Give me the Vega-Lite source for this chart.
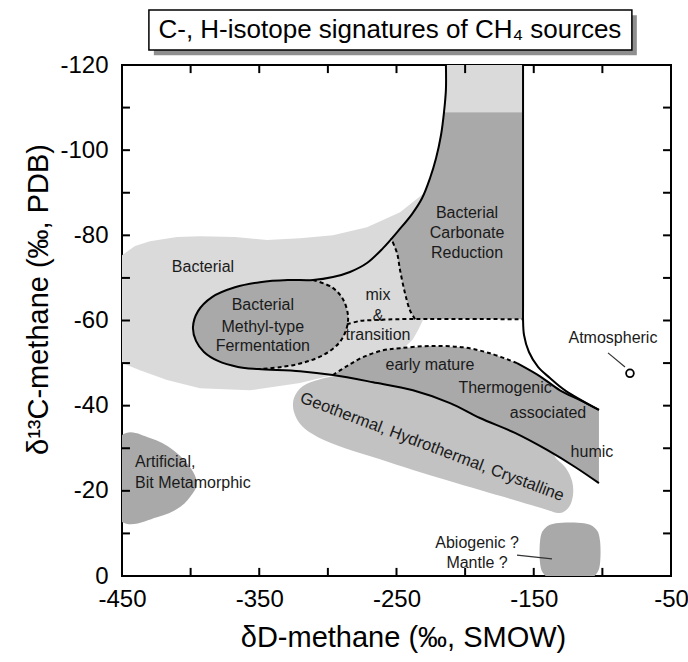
{
"$schema": "https://vega.github.io/schema/vega-lite/v6.json",
"width": 549, "height": 511,
"autosize": "none",
"padding": {"left": 122, "top": 65, "right": 17, "bottom": 86},
"background": "white",
"config": {"view": {"stroke": "black", "strokeWidth": 2}, "font": "Liberation Sans"},
"datasets": {
"shapes": [
{"g":"bact","i":1,"x":-450,"y":-75.3},{"g":"bact","i":2,"x":-440.5,"y":-77.5},{"g":"bact","i":3,"x":-429.6,"y":-78.6},{"g":"bact","i":4,"x":-409.9,"y":-79.6},{"g":"bact","i":5,"x":-393.2,"y":-79.8},{"g":"bact","i":6,"x":-367.7,"y":-79.6},{"g":"bact","i":7,"x":-344.4,"y":-78.9},{"g":"bact","i":8,"x":-320.3,"y":-79.3},{"g":"bact","i":9,"x":-296.3,"y":-80.0},{"g":"bact","i":10,"x":-271.5,"y":-81.9},{"g":"bact","i":11,"x":-247.4,"y":-85.4},{"g":"bact","i":12,"x":-230.0,"y":-89.9},{"g":"bact","i":13,"x":-228.5,"y":-76.5},{"g":"bact","i":14,"x":-230.7,"y":-60.1},{"g":"bact","i":15,"x":-234.3,"y":-57.7},{"g":"bact","i":16,"x":-238.0,"y":-55.6},{"g":"bact","i":17,"x":-245.3,"y":-53.3},{"g":"bact","i":18,"x":-258.4,"y":-51.2},{"g":"bact","i":19,"x":-273.0,"y":-49.5},{"g":"bact","i":20,"x":-296.3,"y":-47.2},{"g":"bact","i":21,"x":-320.3,"y":-45.3},{"g":"bact","i":22,"x":-356.7,"y":-43.6},{"g":"bact","i":23,"x":-393.2,"y":-44.1},{"g":"bact","i":24,"x":-417.2,"y":-46.0},{"g":"bact","i":25,"x":-436.9,"y":-48.3},{"g":"bact","i":26,"x":-450,"y":-50.0},
{"g":"strip","i":1,"x":-214.0,"y":-120},{"g":"strip","i":2,"x":-157.8,"y":-120},{"g":"strip","i":3,"x":-157.8,"y":-108.9},{"g":"strip","i":4,"x":-215.4,"y":-108.9},
{"g":"geo","i":1,"x":-287.5,"y":-47.2},{"g":"geo","i":2,"x":-305.7,"y":-46.2},{"g":"geo","i":3,"x":-318.1,"y":-44.6},{"g":"geo","i":4,"x":-324.7,"y":-41.8},{"g":"geo","i":5,"x":-324.7,"y":-38.5},{"g":"geo","i":6,"x":-318.9,"y":-35.2},{"g":"geo","i":7,"x":-307.2,"y":-32.6},{"g":"geo","i":8,"x":-287.5,"y":-30.0},{"g":"geo","i":9,"x":-262.0,"y":-27.4},{"g":"geo","i":10,"x":-238.0,"y":-24.9},{"g":"geo","i":11,"x":-213.2,"y":-22.5},{"g":"geo","i":12,"x":-189.2,"y":-20.2},{"g":"geo","i":13,"x":-163.7,"y":-17.8},{"g":"geo","i":14,"x":-141.8,"y":-15.7},{"g":"geo","i":15,"x":-130.9,"y":-14.8},{"g":"geo","i":16,"x":-124.3,"y":-16.2},{"g":"geo","i":17,"x":-121.4,"y":-19.0},{"g":"geo","i":18,"x":-122.1,"y":-22.3},{"g":"geo","i":19,"x":-126.5,"y":-25.3},{"g":"geo","i":20,"x":-133.1,"y":-27.4},{"g":"geo","i":21,"x":-140.3,"y":-30.0},{"g":"geo","i":22,"x":-163.7,"y":-34.0},{"g":"geo","i":23,"x":-189.2,"y":-37.5},{"g":"geo","i":24,"x":-211.0,"y":-41.1},{"g":"geo","i":25,"x":-238.0,"y":-44.1},{"g":"geo","i":26,"x":-267.1,"y":-46.0},
{"g":"carb","i":1,"x":-215.4,"y":-108.9},{"g":"carb","i":2,"x":-157.8,"y":-108.9},{"g":"carb","i":3,"x":-157.8,"y":-60.3},{"g":"carb","i":4,"x":-236.5,"y":-60.3},{"g":"carb","i":5,"x":-240.2,"y":-62.4},{"g":"carb","i":6,"x":-243.8,"y":-66.4},{"g":"carb","i":7,"x":-247.4,"y":-71.8},{"g":"carb","i":8,"x":-249.6,"y":-75.8},{"g":"carb","i":9,"x":-254.0,"y":-79.3},{"g":"carb","i":10,"x":-248.9,"y":-81.0},{"g":"carb","i":11,"x":-238.7,"y":-85.0},{"g":"carb","i":12,"x":-231.4,"y":-88.7},{"g":"carb","i":13,"x":-225.6,"y":-93.4},{"g":"carb","i":14,"x":-221.2,"y":-98.1},{"g":"carb","i":15,"x":-217.6,"y":-103.5},
{"g":"thermo","i":1,"x":-296.3,"y":-47.2},{"g":"thermo","i":2,"x":-286.1,"y":-49.3},{"g":"thermo","i":3,"x":-274.4,"y":-51.4},{"g":"thermo","i":4,"x":-259.8,"y":-53.0},{"g":"thermo","i":5,"x":-247.4,"y":-53.5},{"g":"thermo","i":6,"x":-225.6,"y":-54.0},{"g":"thermo","i":7,"x":-201.5,"y":-53.7},{"g":"thermo","i":8,"x":-181.9,"y":-52.3},{"g":"thermo","i":9,"x":-162.2,"y":-50.0},{"g":"thermo","i":10,"x":-145.4,"y":-46.9},{"g":"thermo","i":11,"x":-130.9,"y":-43.6},{"g":"thermo","i":12,"x":-116.3,"y":-41.3},{"g":"thermo","i":13,"x":-102.5,"y":-39.0},{"g":"thermo","i":14,"x":-102.5,"y":-21.8},{"g":"thermo","i":15,"x":-119.9,"y":-25.6},{"g":"thermo","i":16,"x":-140.3,"y":-29.6},{"g":"thermo","i":17,"x":-163.7,"y":-33.6},{"g":"thermo","i":18,"x":-189.2,"y":-37.1},{"g":"thermo","i":19,"x":-211.0,"y":-40.6},{"g":"thermo","i":20,"x":-238.0,"y":-43.6},{"g":"thermo","i":21,"x":-267.1,"y":-45.5},
{"g":"ellipse","i":1,"x":-310.8,"y":-69.5},{"g":"ellipse","i":2,"x":-297.0,"y":-67.8},{"g":"ellipse","i":3,"x":-289.0,"y":-65.0},{"g":"ellipse","i":4,"x":-285.3,"y":-61.0},{"g":"ellipse","i":5,"x":-286.8,"y":-57.7},{"g":"ellipse","i":6,"x":-291.9,"y":-54.7},{"g":"ellipse","i":7,"x":-302.1,"y":-52.1},{"g":"ellipse","i":8,"x":-316.7,"y":-50.2},{"g":"ellipse","i":9,"x":-333.4,"y":-49.1},{"g":"ellipse","i":10,"x":-350.9,"y":-48.6},{"g":"ellipse","i":11,"x":-365.5,"y":-49.1},{"g":"ellipse","i":12,"x":-380.1,"y":-50.5},{"g":"ellipse","i":13,"x":-390.3,"y":-52.6},{"g":"ellipse","i":14,"x":-396.1,"y":-55.2},{"g":"ellipse","i":15,"x":-398.3,"y":-58.4},{"g":"ellipse","i":16,"x":-394.6,"y":-62.2},{"g":"ellipse","i":17,"x":-384.4,"y":-65.5},{"g":"ellipse","i":18,"x":-367.7,"y":-67.8},{"g":"ellipse","i":19,"x":-349.5,"y":-69.0},{"g":"ellipse","i":20,"x":-329.1,"y":-69.5},
{"g":"artif","i":1,"x":-450,"y":-33.1},{"g":"artif","i":2,"x":-429.6,"y":-32.4},{"g":"artif","i":3,"x":-412.8,"y":-29.6},{"g":"artif","i":4,"x":-400.5,"y":-25.6},{"g":"artif","i":5,"x":-395.4,"y":-22.0},{"g":"artif","i":6,"x":-398.3,"y":-19.5},{"g":"artif","i":7,"x":-407.7,"y":-16.2},{"g":"artif","i":8,"x":-424.5,"y":-13.8},{"g":"artif","i":9,"x":-450,"y":-12.7},{"g":"artif","i":10,"x":-469.7,"y":-23.0},
{"g":"abio","i":1,"x":-133.8,"y":-12.4},{"g":"abio","i":2,"x":-113.4,"y":-12.4},{"g":"abio","i":3,"x":-104.6,"y":-11.0},{"g":"abio","i":4,"x":-101.7,"y":-8.2},{"g":"abio","i":5,"x":-101.7,"y":-3.0},{"g":"abio","i":6,"x":-104.6,"y":-0.4},{"g":"abio","i":7,"x":-111.9,"y":0.7},{"g":"abio","i":8,"x":-135.2,"y":0.7},{"g":"abio","i":9,"x":-142.5,"y":-0.4},{"g":"abio","i":10,"x":-145.4,"y":-3.0},{"g":"abio","i":11,"x":-145.4,"y":-8.2},{"g":"abio","i":12,"x":-142.5,"y":-11.0},
{"g":"S1","i":1,"x":-214.0,"y":-120},{"g":"S1","i":2,"x":-214.0,"y":-114.1},{"g":"S1","i":3,"x":-215.4,"y":-108.9},{"g":"S1","i":4,"x":-217.6,"y":-103.5},{"g":"S1","i":5,"x":-221.2,"y":-98.1},{"g":"S1","i":6,"x":-225.6,"y":-93.4},{"g":"S1","i":7,"x":-231.4,"y":-88.7},{"g":"S1","i":8,"x":-238.7,"y":-85.0},{"g":"S1","i":9,"x":-248.9,"y":-81.0},{"g":"S1","i":10,"x":-259.8,"y":-77.0},{"g":"S1","i":11,"x":-271.5,"y":-73.5},{"g":"S1","i":12,"x":-283.9,"y":-71.4},{"g":"S1","i":13,"x":-296.3,"y":-70.2},{"g":"S1","i":14,"x":-310.8,"y":-69.5},{"g":"S1","i":15,"x":-329.1,"y":-69.5},{"g":"S1","i":16,"x":-349.5,"y":-69.0},{"g":"S1","i":17,"x":-367.7,"y":-67.8},{"g":"S1","i":18,"x":-384.4,"y":-65.5},{"g":"S1","i":19,"x":-394.6,"y":-62.2},{"g":"S1","i":20,"x":-398.3,"y":-58.4},{"g":"S1","i":21,"x":-396.1,"y":-55.2},{"g":"S1","i":22,"x":-390.3,"y":-52.6},{"g":"S1","i":23,"x":-380.1,"y":-50.5},{"g":"S1","i":24,"x":-365.5,"y":-49.1},{"g":"S1","i":25,"x":-350.9,"y":-48.6},{"g":"S1","i":26,"x":-320.3,"y":-48.1},{"g":"S1","i":27,"x":-296.3,"y":-47.2},{"g":"S1","i":28,"x":-267.1,"y":-45.5},{"g":"S1","i":29,"x":-238.0,"y":-43.6},{"g":"S1","i":30,"x":-211.0,"y":-40.6},{"g":"S1","i":31,"x":-189.2,"y":-37.1},{"g":"S1","i":32,"x":-163.7,"y":-33.6},{"g":"S1","i":33,"x":-140.3,"y":-29.6},{"g":"S1","i":34,"x":-119.9,"y":-25.6},{"g":"S1","i":35,"x":-102.5,"y":-21.8},
{"g":"S2","i":1,"x":-157.8,"y":-120},{"g":"S2","i":2,"x":-157.8,"y":-63.0},{"g":"S2","i":3,"x":-157.8,"y":-60.3},{"g":"S2","i":4,"x":-157.1,"y":-56.6},{"g":"S2","i":5,"x":-153.5,"y":-52.6},{"g":"S2","i":6,"x":-146.9,"y":-49.1},{"g":"S2","i":7,"x":-138.2,"y":-46.5},{"g":"S2","i":8,"x":-127.2,"y":-43.6},{"g":"S2","i":9,"x":-102.5,"y":-39.0},
{"g":"S3","i":1,"x":-162.2,"y":-50.0},{"g":"S3","i":2,"x":-145.4,"y":-46.9},{"g":"S3","i":3,"x":-130.9,"y":-43.6},{"g":"S3","i":4,"x":-116.3,"y":-41.3},{"g":"S3","i":5,"x":-102.5,"y":-39.0},
{"g":"D1","i":1,"x":-310.8,"y":-69.5},{"g":"D1","i":2,"x":-297.0,"y":-67.8},{"g":"D1","i":3,"x":-289.0,"y":-65.0},{"g":"D1","i":4,"x":-285.3,"y":-61.0},{"g":"D1","i":5,"x":-286.8,"y":-57.7},{"g":"D1","i":6,"x":-291.9,"y":-54.7},{"g":"D1","i":7,"x":-302.1,"y":-52.1},{"g":"D1","i":8,"x":-316.7,"y":-50.2},{"g":"D1","i":9,"x":-333.4,"y":-49.1},{"g":"D1","i":10,"x":-350.9,"y":-48.6},
{"g":"D2","i":1,"x":-286.1,"y":-59.1},{"g":"D2","i":2,"x":-276.6,"y":-59.9},{"g":"D2","i":3,"x":-265.7,"y":-60.1},{"g":"D2","i":4,"x":-251.1,"y":-60.3},{"g":"D2","i":5,"x":-157.8,"y":-60.3},
{"g":"D3","i":1,"x":-236.5,"y":-60.3},{"g":"D3","i":2,"x":-240.2,"y":-62.4},{"g":"D3","i":3,"x":-243.8,"y":-66.4},{"g":"D3","i":4,"x":-247.4,"y":-71.8},{"g":"D3","i":5,"x":-249.6,"y":-75.8},{"g":"D3","i":6,"x":-254.0,"y":-79.3},
{"g":"D4","i":1,"x":-296.3,"y":-47.2},{"g":"D4","i":2,"x":-286.1,"y":-49.3},{"g":"D4","i":3,"x":-274.4,"y":-51.4},{"g":"D4","i":4,"x":-259.8,"y":-53.0},{"g":"D4","i":5,"x":-247.4,"y":-53.5},{"g":"D4","i":6,"x":-225.6,"y":-54.0},{"g":"D4","i":7,"x":-201.5,"y":-53.7},{"g":"D4","i":8,"x":-181.9,"y":-52.3},{"g":"D4","i":9,"x":-162.2,"y":-50.0},
{"g":"L1","i":1,"x":-162.2,"y":-4.9},{"g":"L1","i":2,"x":-136.7,"y":-4.0},
{"g":"L2","i":1,"x":-95.9,"y":-52.4},{"g":"L2","i":2,"x":-83.5,"y":-49.1}
],
"tickSegs": [
{"g":"b400","i":1,"x":-400,"y":0},{"g":"b400","i":2,"x":-400,"y":-1.9},
{"g":"b350","i":1,"x":-350,"y":0},{"g":"b350","i":2,"x":-350,"y":-1.9},
{"g":"b300","i":1,"x":-300,"y":0},{"g":"b300","i":2,"x":-300,"y":-1.9},
{"g":"b250","i":1,"x":-250,"y":0},{"g":"b250","i":2,"x":-250,"y":-1.9},
{"g":"b200","i":1,"x":-200,"y":0},{"g":"b200","i":2,"x":-200,"y":-1.9},
{"g":"b150","i":1,"x":-150,"y":0},{"g":"b150","i":2,"x":-150,"y":-1.9},
{"g":"b100","i":1,"x":-100,"y":0},{"g":"b100","i":2,"x":-100,"y":-1.9},
{"g":"t400","i":1,"x":-400,"y":-120},{"g":"t400","i":2,"x":-400,"y":-118.1},
{"g":"t350","i":1,"x":-350,"y":-120},{"g":"t350","i":2,"x":-350,"y":-118.1},
{"g":"t300","i":1,"x":-300,"y":-120},{"g":"t300","i":2,"x":-300,"y":-118.1},
{"g":"t250","i":1,"x":-250,"y":-120},{"g":"t250","i":2,"x":-250,"y":-118.1},
{"g":"t200","i":1,"x":-200,"y":-120},{"g":"t200","i":2,"x":-200,"y":-118.1},
{"g":"t150","i":1,"x":-150,"y":-120},{"g":"t150","i":2,"x":-150,"y":-118.1},
{"g":"t100","i":1,"x":-100,"y":-120},{"g":"t100","i":2,"x":-100,"y":-118.1},
{"g":"l110","i":1,"x":-450,"y":-110},{"g":"l110","i":2,"x":-444.2,"y":-110},
{"g":"l100","i":1,"x":-450,"y":-100},{"g":"l100","i":2,"x":-444.2,"y":-100},
{"g":"l90","i":1,"x":-450,"y":-90},{"g":"l90","i":2,"x":-444.2,"y":-90},
{"g":"l80","i":1,"x":-450,"y":-80},{"g":"l80","i":2,"x":-444.2,"y":-80},
{"g":"l70","i":1,"x":-450,"y":-70},{"g":"l70","i":2,"x":-444.2,"y":-70},
{"g":"l60","i":1,"x":-450,"y":-60},{"g":"l60","i":2,"x":-444.2,"y":-60},
{"g":"l50","i":1,"x":-450,"y":-50},{"g":"l50","i":2,"x":-444.2,"y":-50},
{"g":"l40","i":1,"x":-450,"y":-40},{"g":"l40","i":2,"x":-444.2,"y":-40},
{"g":"l30","i":1,"x":-450,"y":-30},{"g":"l30","i":2,"x":-444.2,"y":-30},
{"g":"l20","i":1,"x":-450,"y":-20},{"g":"l20","i":2,"x":-444.2,"y":-20},
{"g":"l10","i":1,"x":-450,"y":-10},{"g":"l10","i":2,"x":-444.2,"y":-10},
{"g":"r110","i":1,"x":-50,"y":-110},{"g":"r110","i":2,"x":-55.8,"y":-110},
{"g":"r100","i":1,"x":-50,"y":-100},{"g":"r100","i":2,"x":-55.8,"y":-100},
{"g":"r90","i":1,"x":-50,"y":-90},{"g":"r90","i":2,"x":-55.8,"y":-90},
{"g":"r80","i":1,"x":-50,"y":-80},{"g":"r80","i":2,"x":-55.8,"y":-80},
{"g":"r70","i":1,"x":-50,"y":-70},{"g":"r70","i":2,"x":-55.8,"y":-70},
{"g":"r60","i":1,"x":-50,"y":-60},{"g":"r60","i":2,"x":-55.8,"y":-60},
{"g":"r50","i":1,"x":-50,"y":-50},{"g":"r50","i":2,"x":-55.8,"y":-50},
{"g":"r40","i":1,"x":-50,"y":-40},{"g":"r40","i":2,"x":-55.8,"y":-40},
{"g":"r30","i":1,"x":-50,"y":-30},{"g":"r30","i":2,"x":-55.8,"y":-30},
{"g":"r20","i":1,"x":-50,"y":-20},{"g":"r20","i":2,"x":-55.8,"y":-20},
{"g":"r10","i":1,"x":-50,"y":-10},{"g":"r10","i":2,"x":-55.8,"y":-10}
],
"labels": [
{"t":"Bacterial","x":-391.0,"y":-72.5},
{"t":"Bacterial","x":-347.4,"y":-63.6},{"t":"Methyl-type","x":-347.4,"y":-58.4},{"t":"Fermentation","x":-347.4,"y":-54.0},
{"t":"mix","x":-263.5,"y":-66.0},{"t":"&","x":-263.5,"y":-61.0},{"t":"transition","x":-263.5,"y":-56.6},
{"t":"Bacterial","x":-198.6,"y":-85.2},{"t":"Carbonate","x":-198.6,"y":-80.5},{"t":"Reduction","x":-198.6,"y":-75.8},
{"t":"early mature","x":-225.6,"y":-49.5},{"t":"Thermogenic","x":-170.9,"y":-44.1},{"t":"associated","x":-139.6,"y":-38.2},{"t":"humic","x":-107.6,"y":-29.1},
{"t":"Abiogenic ?","x":-191.3,"y":-7.7},{"t":"Mantle ?","x":-191.3,"y":-3.0},
{"t":"Atmospheric","x":-92.3,"y":-55.9}
],
"leftLabels": [
{"t":"Artificial,","x":-440.5,"y":-26.7},{"t":"Bit Metamorphic","x":-440.5,"y":-21.8}
],
"geoLabel": [
{"t":"Geothermal, Hydrothermal, Crystalline","x":-224.1,"y":-30.3}
],
"atm": [{"name":"Atmospheric","x":-79.9,"y":-47.6}],
"title": [{"t":"C-, H-isotope signatures of CH₄ sources"}]
},
"layer": [
{
"data": {"name": "shapes"},
"transform": [{"filter": {"field": "g", "oneOf": ["bact", "strip"]}}],
"mark": {"type": "line", "interpolate": "linear-closed", "fill": "#dadada", "strokeWidth": 0, "strokeOpacity": 0, "clip": true},
"encoding": {
"x": {"field": "x", "type": "quantitative", "scale": {"domain": [-450, -50], "nice": false, "zero": false},
"axis": {"orient": "bottom", "values": [-450,-350,-250,-150,-50], "labelExpr": "'' + datum.value", "grid": false, "domain": false, "ticks": false, "labelFont": "Liberation Sans", "labelFontSize": 24, "labelColor": "black", "labelPadding": 30, "labelBaseline": "alphabetic", "labelFlush": false, "labelOverlap": false, "title": "δD-methane (‰, SMOW)", "titleFont": "Liberation Sans", "titleFontSize": 29, "titleFontWeight": "normal", "titleColor": "black", "titleX": 281, "titleY": 70, "titleBaseline": "alphabetic"}},
"y": {"field": "y", "type": "quantitative", "scale": {"domain": [-120, 0], "reverse": true, "nice": false, "zero": false},
"axis": {"orient": "left", "values": [0,-20,-40,-60,-80,-100,-120], "labelExpr": "'' + datum.value", "grid": false, "domain": false, "ticks": false, "labelFont": "Liberation Sans", "labelFontSize": 24, "labelColor": "black", "labelPadding": 14, "labelFlush": false, "labelOverlap": false, "title": "δ¹³C-methane (‰, PDB)", "titleFont": "Liberation Sans", "titleFontSize": 29, "titleFontWeight": "normal", "titleColor": "black", "titleX": -75, "titleY": 234, "titleBaseline": "alphabetic"}},
"detail": {"field": "g"},
"order": {"field": "i", "type": "quantitative"}
}
},
{
"data": {"name": "shapes"},
"transform": [{"filter": {"field": "g", "equal": "geo"}}],
"mark": {"type": "line", "interpolate": "cardinal-closed", "fill": "#c2c2c2", "strokeWidth": 0, "strokeOpacity": 0, "clip": true},
"encoding": {
"x": {"field": "x", "type": "quantitative"},
"y": {"field": "y", "type": "quantitative"},
"detail": {"field": "g"},
"order": {"field": "i", "type": "quantitative"}
}
},
{
"data": {"name": "shapes"},
"transform": [{"filter": {"field": "g", "oneOf": ["carb", "thermo"]}}],
"mark": {"type": "line", "interpolate": "linear-closed", "fill": "#a9a9a9", "strokeWidth": 0, "strokeOpacity": 0, "clip": true},
"encoding": {
"x": {"field": "x", "type": "quantitative"},
"y": {"field": "y", "type": "quantitative"},
"detail": {"field": "g"},
"order": {"field": "i", "type": "quantitative"}
}
},
{
"data": {"name": "shapes"},
"transform": [{"filter": {"field": "g", "oneOf": ["ellipse", "artif", "abio"]}}],
"mark": {"type": "line", "interpolate": "cardinal-closed", "fill": "#a9a9a9", "strokeWidth": 0, "strokeOpacity": 0, "clip": true},
"encoding": {
"x": {"field": "x", "type": "quantitative"},
"y": {"field": "y", "type": "quantitative"},
"detail": {"field": "g"},
"order": {"field": "i", "type": "quantitative"}
}
},
{
"data": {"name": "shapes"},
"transform": [{"filter": {"field": "g", "oneOf": ["S1", "S2", "S3"]}}],
"mark": {"type": "line", "interpolate": "catmull-rom", "color": "black", "strokeWidth": 2, "clip": true},
"encoding": {
"x": {"field": "x", "type": "quantitative"},
"y": {"field": "y", "type": "quantitative"},
"detail": {"field": "g"},
"order": {"field": "i", "type": "quantitative"}
}
},
{
"data": {"name": "shapes"},
"transform": [{"filter": {"field": "g", "oneOf": ["D1", "D2", "D3", "D4"]}}],
"mark": {"type": "line", "interpolate": "catmull-rom", "color": "black", "strokeWidth": 2, "strokeDash": [4, 3], "clip": true},
"encoding": {
"x": {"field": "x", "type": "quantitative"},
"y": {"field": "y", "type": "quantitative"},
"detail": {"field": "g"},
"order": {"field": "i", "type": "quantitative"}
}
},
{
"data": {"name": "shapes"},
"transform": [{"filter": {"field": "g", "oneOf": ["L1", "L2"]}}],
"mark": {"type": "line", "color": "#333333", "strokeWidth": 1.2},
"encoding": {
"x": {"field": "x", "type": "quantitative"},
"y": {"field": "y", "type": "quantitative"},
"detail": {"field": "g"},
"order": {"field": "i", "type": "quantitative"}
}
},
{
"data": {"name": "tickSegs"},
"mark": {"type": "line", "color": "black", "strokeWidth": 2},
"encoding": {
"x": {"field": "x", "type": "quantitative"},
"y": {"field": "y", "type": "quantitative"},
"detail": {"field": "g"},
"order": {"field": "i", "type": "quantitative"}
}
},
{
"data": {"name": "atm"},
"mark": {"type": "point", "shape": "circle", "size": 60, "filled": true, "fill": "white", "stroke": "black", "strokeWidth": 1.8, "opacity": 1},
"encoding": {
"x": {"field": "x", "type": "quantitative"},
"y": {"field": "y", "type": "quantitative"}
}
},
{
"data": {"name": "labels"},
"mark": {"type": "text", "font": "Liberation Sans", "fontSize": 16, "color": "#1a1a1a", "align": "center", "baseline": "middle"},
"encoding": {
"x": {"field": "x", "type": "quantitative"},
"y": {"field": "y", "type": "quantitative"},
"text": {"field": "t"}
}
},
{
"data": {"name": "leftLabels"},
"mark": {"type": "text", "font": "Liberation Sans", "fontSize": 16, "color": "#1a1a1a", "align": "left", "baseline": "middle"},
"encoding": {
"x": {"field": "x", "type": "quantitative"},
"y": {"field": "y", "type": "quantitative"},
"text": {"field": "t"}
}
},
{
"data": {"name": "geoLabel"},
"mark": {"type": "text", "font": "Liberation Sans", "fontSize": 16.5, "color": "#1a1a1a", "align": "center", "baseline": "middle", "angle": 20.7},
"encoding": {
"x": {"field": "x", "type": "quantitative"},
"y": {"field": "y", "type": "quantitative"},
"text": {"field": "t"}
}
},
{
"data": {"name": "title"},
"mark": {"type": "rect", "fill": "#8f8f8f"},
"encoding": {
"x": {"datum": -426.8, "type": "quantitative"},
"x2": {"datum": -74.9},
"y": {"datum": -131.7, "type": "quantitative"},
"y2": {"datum": -122.3}
}
},
{
"data": {"name": "title"},
"mark": {"type": "rect", "fill": "white", "stroke": "black", "strokeWidth": 1.5},
"encoding": {
"x": {"datum": -430.4, "type": "quantitative"},
"x2": {"datum": -78.5},
"y": {"datum": -132.9, "type": "quantitative"},
"y2": {"datum": -123.5}
}
},
{
"data": {"name": "title"},
"mark": {"type": "text", "font": "Liberation Sans", "fontSize": 26, "color": "black", "align": "center", "baseline": "middle"},
"encoding": {
"x": {"datum": -254.8, "type": "quantitative"},
"y": {"datum": -128.2, "type": "quantitative"},
"text": {"field": "t"}
}
}
]
}
